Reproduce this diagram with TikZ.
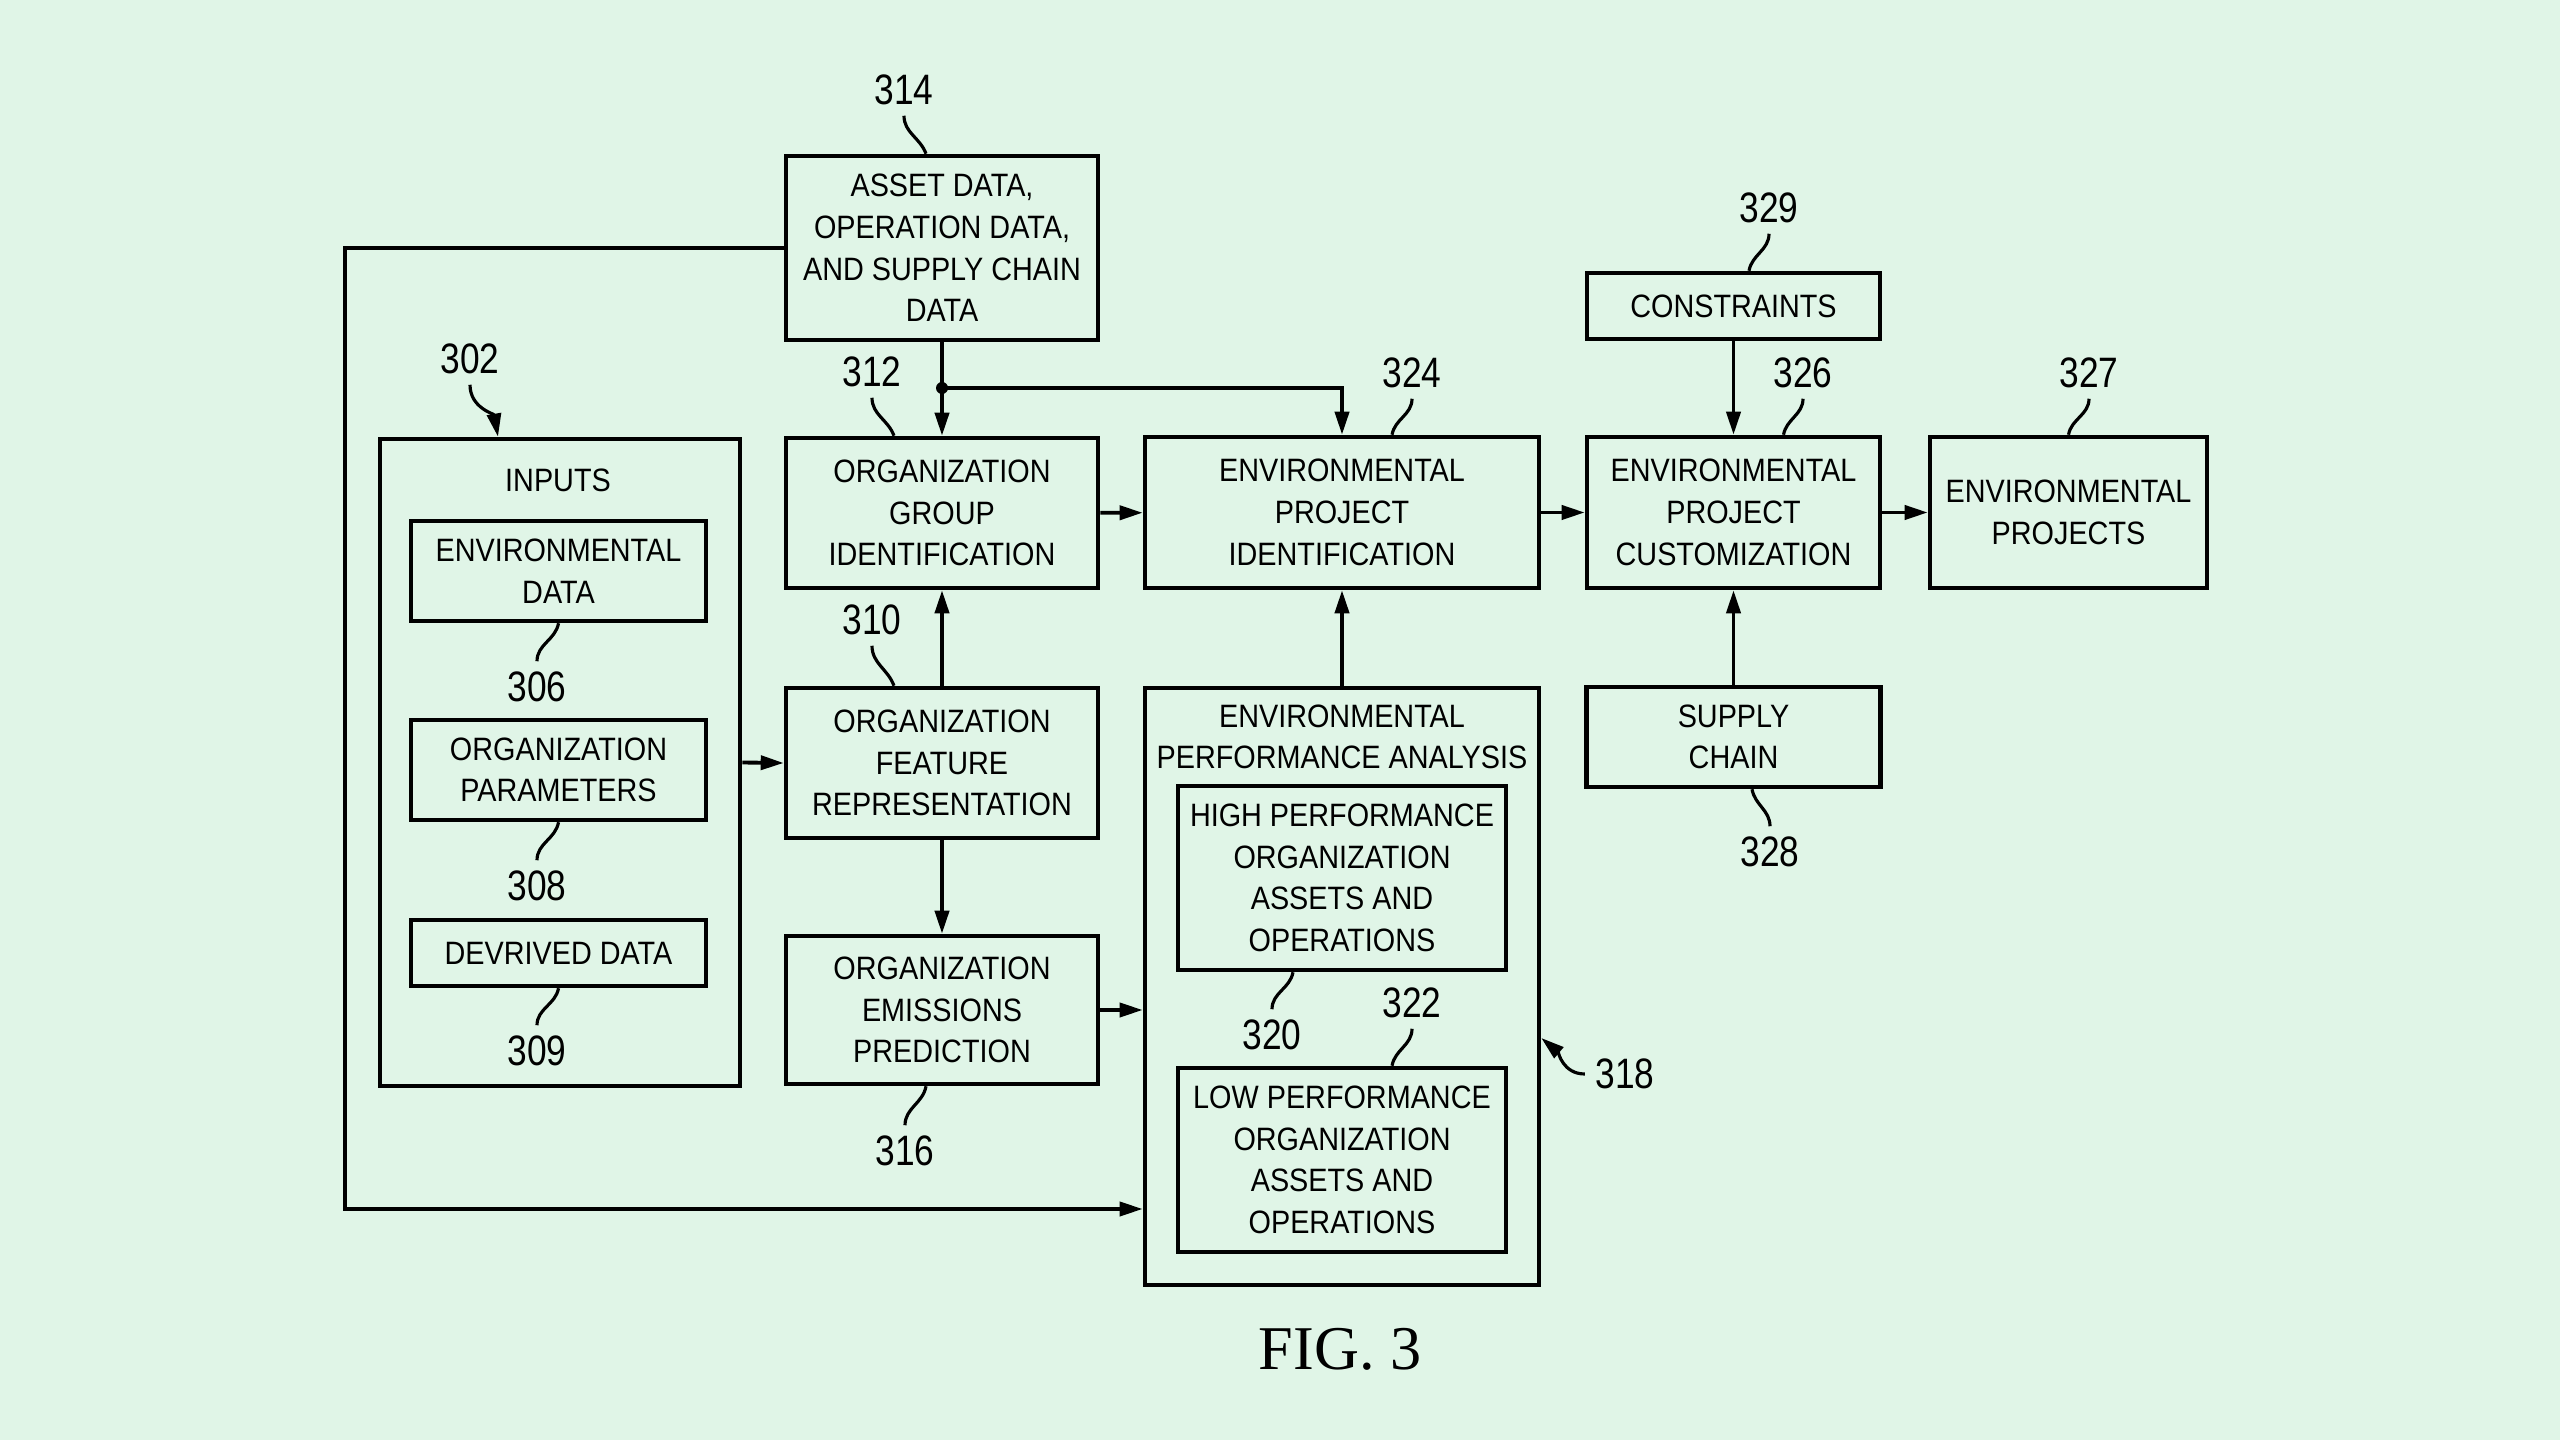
\documentclass[tikz,border=0pt]{standalone}
\usepackage{fontspec}
\setmainfont{Liberation Serif}
\newfontfamily\patfont{Liberation Sans}[FakeStretch=0.89]
\newfontfamily\refnumfont{Liberation Sans}[FakeStretch=0.83]
\usetikzlibrary{arrows.meta, positioning}
\definecolor{sheetgreen}{RGB}{224,245,231}

\begin{document}
\begin{tikzpicture}[
    x=0.01cm, y=-0.01cm,
    box/.style={
        rectangle, draw, line width=1.25pt,
        align=center, inner sep=0pt,
        font=\patfont\fontsize{9.2}{11.84}\selectfont
    },
    boxtitle/.style={align=center, inner sep=0pt, font=\patfont\fontsize{9.2}{11.84}\selectfont},
    refnum/.style={inner sep=1mm, font=\refnumfont\fontsize{12.1}{14}\selectfont},
    arrow/.style={-{Triangle[length=2.3mm, width=1.4mm]}, line width=1.1pt},
    leader/.style={line width=0.9pt}
]

\fill[sheetgreen] (0,0) rectangle (2560,1440);
\useasboundingbox (0,0) rectangle (2560,1440);

% Organization column
\node[box, minimum width=3.12cm, minimum height=1.84cm] (asset) at (942,248) {ASSET DATA,\\OPERATION DATA,\\AND SUPPLY CHAIN\\DATA};
\node[box, minimum width=3.12cm, minimum height=1.5cm] (group) at (942,513) {ORGANIZATION\\GROUP\\IDENTIFICATION};
\node[box, minimum width=3.12cm, minimum height=1.5cm] (feature) at (942,763) {ORGANIZATION\\FEATURE\\REPRESENTATION};
\node[box, minimum width=3.12cm, minimum height=1.48cm] (emis) at (942,1010) {ORGANIZATION\\EMISSIONS\\PREDICTION};

% Inputs block
\node[box, minimum width=3.6cm, minimum height=6.47cm] (inputs) at (560,762.5) {};
\node[boxtitle] (inputsT) at (558,480) {INPUTS};
\node[box, minimum width=2.95cm, minimum height=1.0cm] (envdata) at (558.5,571) {ENVIRONMENTAL\\DATA};
\node[box, minimum width=2.95cm, minimum height=1.0cm] (params) at (558.5,770) {ORGANIZATION\\PARAMETERS};
\node[box, minimum width=2.95cm, minimum height=0.66cm] (derived) at (558.5,953) {DEVRIVED DATA};

% Environmental column
\node[box, minimum width=3.94cm, minimum height=1.51cm] (epi) at (1342,512.5) {ENVIRONMENTAL\\PROJECT\\IDENTIFICATION};
\node[box, minimum width=3.94cm, minimum height=5.97cm] (epa) at (1342,986.5) {};
\node[boxtitle] (epaT) at (1342,737) {ENVIRONMENTAL\\PERFORMANCE ANALYSIS};
\node[box, minimum width=3.28cm, minimum height=1.84cm] (high) at (1342,878) {HIGH PERFORMANCE\\ORGANIZATION\\ASSETS AND\\OPERATIONS};
\node[box, minimum width=3.28cm, minimum height=1.84cm] (low) at (1342,1160) {LOW PERFORMANCE\\ORGANIZATION\\ASSETS AND\\OPERATIONS};

% Customization column
\node[box, minimum width=2.93cm, minimum height=1.51cm] (epc) at (1733.5,512.5) {ENVIRONMENTAL\\PROJECT\\CUSTOMIZATION};
\node[box, minimum width=2.93cm, minimum height=0.66cm] (cons) at (1733.5,306) {CONSTRAINTS};
\node[box, minimum width=2.94cm, minimum height=1.0cm] (supply) at (1733.5,737) {SUPPLY\\CHAIN};
\node[box, minimum width=2.77cm, minimum height=1.51cm] (projects) at (2068.5,512.5) {ENVIRONMENTAL\\PROJECTS};

\node[font=\fontsize{17.7}{19}\selectfont] (fig) at (1340,1349) {FIG. 3};

% Connectors
\coordinate (split) at (942,388);
\coordinate (fbk) at (345,1209);
\draw[arrow] (asset) -- (group);
\fill (split) circle[radius=0.6mm];
\draw[arrow] (split) -| (epi.north);
\draw[arrow] (asset.west) -| (fbk) -- (fbk -| epa.west);
\draw[arrow] (inputs.east) -- (feature.west);
\draw[arrow] (feature) -- (group);
\draw[arrow] (feature) -- (emis);
\draw[arrow] (emis.east) -- (emis.east -| epa.west);
\draw[arrow] (group) -- (epi);
\draw[arrow] (epa) -- (epi);
\draw[arrow] (epi) -- (epc);
\draw[arrow] (cons) -- (epc);
\draw[arrow] (supply) -- (epc);
\draw[arrow] (epc) -- (projects);

% Reference numerals
\node[refnum] (n314) at (904,90) {314};
\node[refnum] (n302) at (470,359) {302};
\node[refnum] (n312) at (872,372) {312};
\node[refnum] (n310) at (872,620) {310};
\node[refnum] (n316) at (905,1151) {316};
\node[refnum] (n306) at (537,687) {306};
\node[refnum] (n308) at (537,886) {308};
\node[refnum] (n309) at (537,1051) {309};
\node[refnum] (n324) at (1412,373) {324};
\node[refnum] (n329) at (1769,208) {329};
\node[refnum] (n326) at (1803,373) {326};
\node[refnum] (n327) at (2089,373) {327};
\node[refnum] (n328) at (1770,852) {328};
\node[refnum] (n320) at (1272,1035) {320};
\node[refnum] (n322) at (1412,1003) {322};
\node[refnum] (n318) at (1625,1074) {318};

\draw[leader] (n314.south) to[out=-90,in=110] ([xshift=-0.16cm]asset.north);
\draw[arrow, leader] (n302.south) to[out=-90,in=100] ([xshift=-0.62cm]inputs.north);
\draw[leader] (n312.south) to[out=-90,in=110] ([xshift=-0.48cm]group.north);
\draw[leader] (n310.south) to[out=-90,in=110] ([xshift=-0.48cm]feature.north);
\draw[leader] ([xshift=-0.16cm]emis.south) to[out=-100,in=90] (n316.north);
\draw[leader] (envdata.south) to[out=-100,in=90] (n306.north);
\draw[leader] (params.south) to[out=-100,in=90] (n308.north);
\draw[leader] (derived.south) to[out=-100,in=90] (n309.north);
\draw[leader] (n324.south) to[out=-90,in=80] ([xshift=0.5cm]epi.north);
\draw[leader] (n329.south) to[out=-90,in=80] ([xshift=0.155cm]cons.north);
\draw[leader] (n326.south) to[out=-90,in=80] ([xshift=0.5cm]epc.north);
\draw[leader] (n327.south) to[out=-90,in=80] (projects.north);
\draw[leader] ([xshift=0.185cm]supply.south) to[out=-80,in=90] (n328.north);
\draw[leader] ([xshift=-0.49cm]high.south) to[out=-100,in=90] (n320.north);
\draw[leader] (n322.south) to[out=-90,in=80] ([xshift=0.5cm]low.north);
\draw[arrow, leader] (n318.west) to[out=180,in=-40] ([yshift=-0.515cm]epa.east);

\end{tikzpicture}
\end{document}
